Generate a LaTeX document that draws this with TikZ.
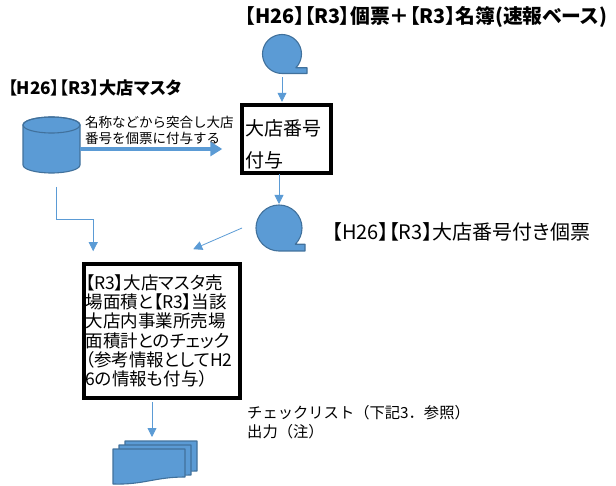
\documentclass[tikz,border=0pt]{standalone}
\usepackage{fontspec}
\setmainfont{Noto Sans CJK JP}
\newfontfamily\boxfont{Noto Sans CJK JP}[RawFeature=+palt]
\usetikzlibrary{arrows.meta,calc}
\definecolor{fillblue}{HTML}{5B9BD5}
\definecolor{edgeblue}{HTML}{41719C}
\newcommand\mydocpage[4]{%
  \path[shapefill] (#1,#3) -- (#2,#3) -- (#2,#4)
    .. controls ($(#2,#4)+(-30,0)$) and ($(#1,#4)+(30,8)$) .. ($(#1,#4)+(0,7)$) -- cycle;}
\begin{document}
\begin{tikzpicture}[x=1pt,y=-1pt,
  conn/.style={draw=fillblue, line width=0.8pt, -{Triangle[length=9pt,width=9pt]}},
  bigarrow/.style={draw=fillblue, line width=4pt, -{Triangle[length=12pt,width=14pt]}},
  shapefill/.style={fill=fillblue, draw=edgeblue, line width=1.1pt, line join=round},
  blackbox/.style={draw=black, line width=3.6pt},
  hole/.style={inner sep=0pt, outer sep=0pt},
  lbl/.style={anchor=west, align=left, inner sep=0pt}]
\useasboundingbox (0,0) rectangle (616,486);

% titles
\node[lbl, font=\boxfont\fontsize{19.8}{22}\selectfont\bfseries] (title) at (245,17) {【H26】【R3】個票＋【R3】名簿(速報ベース)};
\node[lbl, font=\boxfont\fontsize{17.2}{20}\selectfont\bfseries] (mastlbl) at (8,88) {【H26】【R3】大店マスタ};

% tape 1
\node[circle, hole, minimum size=39pt] (tape1) at (282,54) {};
\path[shapefill] ([shift={(-45:19.5pt)}]tape1.center) arc[start angle=-45,end angle=270,radius=19.5pt]
  -- ([shift={(25,19.5)}]tape1.center) -- ([shift={(25,13.8)}]tape1.center) -- cycle;

% box 1
\node[blackbox, hole, minimum width=89.4pt, minimum height=68.4pt] (box1) at (286.5,139) {};
\node[lbl, font=\fontsize{19}{32}\selectfont] (box1t) at (245,144) {大店番号\\付与};

% cylinder
\node[hole, minimum width=57pt, minimum height=56pt] (cyl) at (51.5,145) {};
\path[shapefill] (23,125) -- (23,165) arc[start angle=180,end angle=360,x radius=28.5pt,y radius=8pt]
  -- (80,125) arc[start angle=0,end angle=180,x radius=28.5pt,y radius=8pt] -- cycle;
\draw[draw=edgeblue, line width=1.1pt] (51.5,125) ellipse [x radius=28.5pt, y radius=8pt];

\node[lbl, font=\fontsize{13.5}{16}\selectfont] (arrlbl) at (85,130) {名称などから突合し大店\\番号を個票に付与する};

% tape 2
\node[circle, hole, minimum size=46pt] (tape2) at (279,228) {};
\path[shapefill] ([shift={(-45:23pt)}]tape2.center) arc[start angle=-45,end angle=270,radius=23pt]
  -- ([shift={(26,23)}]tape2.center) -- ([shift={(26,16.3)}]tape2.center) -- cycle;
\node[lbl, font=\boxfont\fontsize{20}{22}\selectfont] (tape2lbl) at (332,232) {【H26】【R3】大店番号付き個票};

% check box
\node[blackbox, minimum width=156.4pt, minimum height=134.4pt, inner xsep=1.5pt, text width=153pt, align=left,
  font=\boxfont\fontsize{17.5}{19.3}\selectfont] (chk) at (162,331)
  {【R3】大店マスタ売\\場面積と【R3】当該\\大店内事業所売場\\面積計とのチェック\\（参考情報としてH2\\6の情報も付与）};

% documents
\node[hole, minimum width=84pt, minimum height=44pt] (docs) at (152,463) {};
\mydocpage{125}{197}{441}{471}
\mydocpage{119}{191}{445}{475}
\mydocpage{113}{185}{449}{477}
\node[lbl, font=\fontsize{15.3}{19}\selectfont] (docslbl) at (247,422) {チェックリスト（下記3．参照）\\出力（注）};

% connectors
\draw[conn, shorten <=4pt, shorten >=3pt] (tape1.south) -- (tape1.south |- box1.north);
\draw[bigarrow, shorten >=19.5pt] ([yshift=-4pt]cyl.east) -- ([yshift=-4pt]cyl.east -| box1.west);
\draw[conn, shorten <=1pt, shorten >=1pt] (box1.south -| tape2.north) -- (tape2.north);
\coordinate (bendA) at ($(chk.north west)+(11.2,-42.8)$);
\coordinate (tipA) at ($(chk.north west)+(11.2,-10.8)$);
\draw[conn] ([xshift=4.5pt,yshift=-14pt]cyl.south) |- (bendA) -- (tipA);
\coordinate (tipB) at ($(chk.north west)+(111.2,-12.8)$);
\draw[conn] ([xshift=-37pt]tape2.center) -- (tipB);
\draw[conn, shorten <=2pt, shorten >=4pt] (chk.south -| docs.north) -- (docs.north);
\end{tikzpicture}
\end{document}
